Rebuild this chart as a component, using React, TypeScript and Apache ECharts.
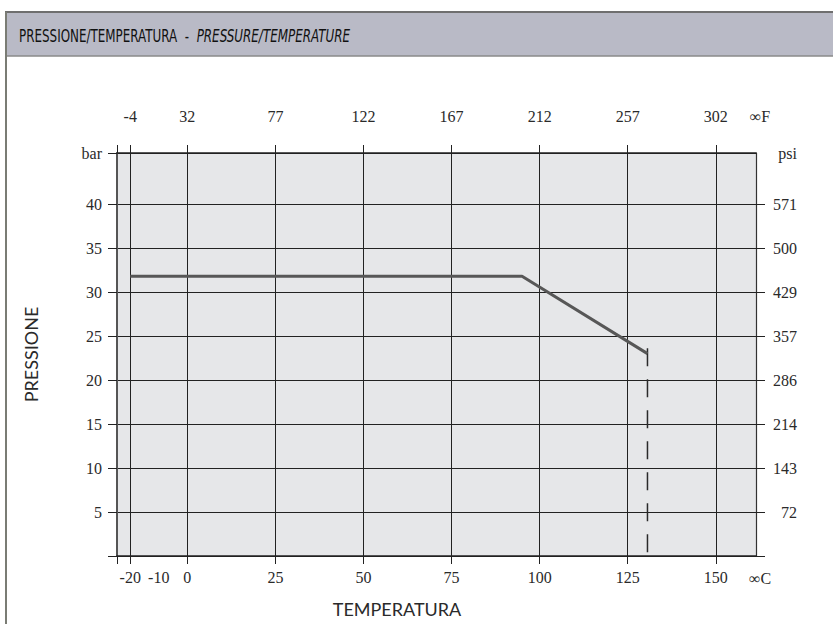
import React, { useEffect, useRef } from "react";
import * as echarts from "echarts";

// ---- data ----
const C_TICKS = [-20, 0, 25, 50, 75, 100, 125, 150];
const C_LABELS = [-20, -10, 0, 25, 50, 75, 100, 125, 150];
const F_LABELS = [-4, 32, 77, 122, 167, 212, 257, 302];
const BAR_TICKS = [5, 10, 15, 20, 25, 30, 35, 40];
const PSI_LABELS = [72, 143, 214, 286, 357, 429, 500, 571];
const CURVE_T = [-20, 95, 130.6];
const CURVE_P = [31.8, 31.8, 23];
const LIMIT_T = 130.6;
const LIMIT_P = [23.6, 0];
const UNIT_C = "∞C";
const UNIT_F = "∞F";

// axis extents (°C scale, bar scale)
const X_MIN = -19.95;
const X_MAX = 161.4;
const Y_MAX = 45.8;
// the sub-zero part of the temperature axis is drawn compressed
const NEG_SCALE = 0.81;
const toPos = (c: number) => (c < 0 ? c * NEG_SCALE : c);

const SERIF = "'Liberation Serif', 'Times New Roman', serif";
const SANS = "Lato, 'Open Sans', sans-serif";
const NARROW = "'DejaVu Sans Condensed', 'DejaVu Sans', sans-serif";

const findIdx = (arr: number[], v: number) =>
  arr.findIndex((c) => Math.abs(toPos(c) - v) < 1e-6);

export default function App() {
  const ref = useRef<HTMLDivElement>(null);
  useEffect(() => {
    document.body.style.margin = "0";
    if (!ref.current) return;
    const chart = echarts.init(ref.current, null, { renderer: "svg" });
    const labelBase = { fontFamily: SERIF, fontSize: 16, color: "#2a2a2a" };
    const gridLine = { color: "#222", width: 1 };
    const option: any = {
      animation: false,
      grid: {
        left: 117,
        top: 153,
        width: 639,
        height: 403,
        show: true,
        backgroundColor: "#e6e7e9",
        borderWidth: 0,
        containLabel: false,
        outerBoundsMode: "none",
      },
      xAxis: [
        {
          type: "value",
          position: "bottom",
          min: X_MIN,
          max: X_MAX,
          axisLine: { show: true, onZero: false, lineStyle: { color: "#222", width: 1.5 } },
          axisTick: {
            show: true,
            inside: false,
            length: 8,
            customValues: [X_MIN, ...C_TICKS.map(toPos)],
            lineStyle: gridLine,
          },
          axisLabel: {
            ...labelBase,
            customValues: C_LABELS.map(toPos),
            margin: 13,
            formatter: (v: number) => {
              const i = findIdx(C_LABELS, v);
              return i >= 0 ? String(C_LABELS[i]) : "";
            },
          },
          splitLine: { show: true, lineStyle: gridLine },
        },
        {
          type: "value",
          position: "top",
          min: X_MIN,
          max: X_MAX,
          axisLine: { show: true, onZero: false, lineStyle: { color: "#222", width: 1.5 } },
          axisTick: {
            show: true,
            inside: false,
            length: 8,
            customValues: [X_MIN, ...C_TICKS.map(toPos)],
            lineStyle: gridLine,
          },
          axisLabel: {
            ...labelBase,
            customValues: C_TICKS.map(toPos),
            margin: 29,
            formatter: (v: number) => {
              const i = findIdx(C_TICKS, v);
              return i >= 0 ? String(F_LABELS[i]) : "";
            },
          },
          splitLine: { show: false },
        },
      ],
      yAxis: [
        {
          type: "value",
          position: "left",
          min: 0,
          max: Y_MAX,
          name: "PRESSIONE",
          nameLocation: "middle",
          nameGap: 77,
          nameRotate: 90,
          nameTextStyle: { fontFamily: SANS, fontSize: 18, color: "#2a2a2a" },
          axisLine: { show: true, onZero: false, lineStyle: { color: "#555", width: 2 } },
          axisTick: {
            show: true,
            inside: false,
            length: 9,
            customValues: [0, ...BAR_TICKS, Y_MAX],
            lineStyle: gridLine,
          },
          axisLabel: {
            ...labelBase,
            customValues: [...BAR_TICKS, Y_MAX],
            margin: 15,
            verticalAlign: "middle",
            padding: [0, 0, 12, 0],
            formatter: (v: number) =>
              Math.abs(v - Y_MAX) < 1e-6 ? "bar" : String(v),
          },
          splitLine: { show: true, lineStyle: gridLine },
        },
        {
          type: "value",
          position: "right",
          min: 0,
          max: Y_MAX,
          axisLine: { show: true, onZero: false, lineStyle: { color: "#333", width: 1.2 } },
          axisTick: {
            show: true,
            inside: false,
            length: 9,
            customValues: [0, ...BAR_TICKS],
            lineStyle: gridLine,
          },
          axisLabel: {
            ...labelBase,
            customValues: [...BAR_TICKS, Y_MAX],
            margin: 41,
            align: "right",
            verticalAlign: "middle",
            padding: [0, 0, 12, 0],
            formatter: (v: number) => {
              if (Math.abs(v - Y_MAX) < 1e-6) return "psi";
              const i = BAR_TICKS.indexOf(v);
              return i >= 0 ? String(PSI_LABELS[i]) : "";
            },
          },
          splitLine: { show: false },
        },
      ],
      series: [
        {
          type: "line",
          xAxisIndex: 0,
          yAxisIndex: 0,
          data: CURVE_T.map((t, i) => [toPos(t), CURVE_P[i]]),
          symbol: "none",
          lineStyle: { color: "#575757", width: 3 },
          z: 5,
        },
        {
          type: "line",
          xAxisIndex: 0,
          yAxisIndex: 0,
          data: LIMIT_P.map((p) => [toPos(LIMIT_T), p]),
          symbol: "none",
          lineStyle: { color: "#2a2a2a", width: 1.5, type: [18, 13] },
          z: 4,
        },
      ],
      graphic: [
        {
          type: "rect",
          shape: { x: 5, y: 12, width: 828, height: 44 },
          style: { fill: "#b9bac6" },
          silent: true,
        },
        {
          type: "line",
          shape: { x1: 5, y1: 12, x2: 833, y2: 12 },
          style: { stroke: "#6f6f6f", lineWidth: 2 },
        },
        {
          type: "line",
          shape: { x1: 5, y1: 56, x2: 833, y2: 56 },
          style: { stroke: "#8a8a8a", lineWidth: 1.5 },
        },
        {
          type: "line",
          shape: { x1: 6, y1: 12, x2: 6, y2: 624 },
          style: { stroke: "#7a7c74", lineWidth: 2 },
        },
        {
          type: "text",
          x: 19,
          y: 36,
          scaleX: 0.78,
          style: {
            text: "{a|PRESSIONE/TEMPERATURA  -  }{b|PRESSURE/TEMPERATURE}",
            verticalAlign: "middle",
            rich: {
              a: { fontFamily: NARROW, fontSize: 17, fill: "#111" },
              b: {
                fontFamily: NARROW,
                fontSize: 17,
                fill: "#111",
                fontStyle: "italic",
              },
            },
          },
        },
        {
          type: "text",
          x: 397,
          y: 609,
          style: {
            text: "TEMPERATURA",
            fontFamily: SANS,
            fontSize: 18,
            fill: "#2a2a2a",
            align: "center",
            verticalAlign: "middle",
          },
        },
        {
          type: "text",
          x: 760,
          y: 116,
          style: {
            text: UNIT_F,
            fontFamily: SERIF,
            fontSize: 16,
            fill: "#2a2a2a",
            align: "center",
            verticalAlign: "middle",
          },
        },
        {
          type: "text",
          x: 760,
          y: 578,
          style: {
            text: UNIT_C,
            fontFamily: SERIF,
            fontSize: 16,
            fill: "#2a2a2a",
            align: "center",
            verticalAlign: "middle",
          },
        },
      ],
    };
    chart.setOption(option);
    return () => chart.dispose();
  }, []);
  return <div ref={ref} style={{ width: 833, height: 624 }} />;
}
